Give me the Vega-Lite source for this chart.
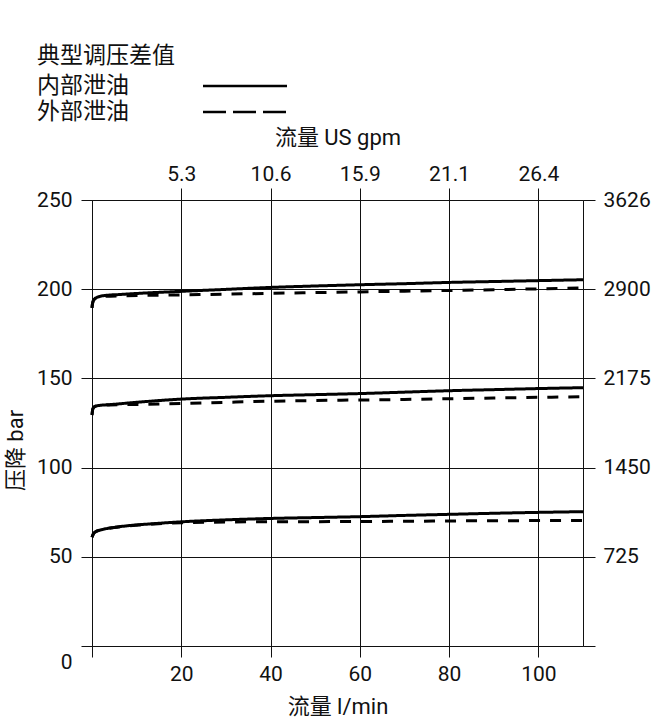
{
  "$schema": "https://vega.github.io/schema/vega-lite/v6.json",
  "width": 491,
  "height": 446,
  "autosize": {"type": "none"},
  "padding": {"left": 92, "top": 200, "right": 76, "bottom": 77},
  "background": "white",
  "config": {
    "view": {"stroke": null},
    "axis": {
      "labelFont": "Roboto, Noto Sans CJK SC",
      "titleFont": "Roboto, Noto Sans CJK SC",
      "labelFontSize": 21,
      "titleFontSize": 22,
      "titleFontWeight": "normal",
      "labelColor": "#111",
      "titleColor": "#111",
      "domainColor": "#111",
      "tickColor": "#111",
      "gridColor": "#111",
      "gridOpacity": 1,
      "gridWidth": 1,
      "domainWidth": 1,
      "tickWidth": 1,
      "labelOverlap": false,
      "labelFlush": false,
      "labelBound": false
    },
    "legend": {
      "labelFont": "Noto Sans CJK SC",
      "titleFont": "Noto Sans CJK SC"
    }
  },
  "data": {
    "values": [
      {"q": 0, "p": 189.5, "type": "内部泄油", "curve": "high"},
      {"q": 0.1, "p": 191.7, "type": "内部泄油", "curve": "high"},
      {"q": 0.4, "p": 194, "type": "内部泄油", "curve": "high"},
      {"q": 1.3, "p": 195.6, "type": "内部泄油", "curve": "high"},
      {"q": 3, "p": 196.5, "type": "内部泄油", "curve": "high"},
      {"q": 6, "p": 197, "type": "内部泄油", "curve": "high"},
      {"q": 10, "p": 197.6, "type": "内部泄油", "curve": "high"},
      {"q": 20, "p": 198.8, "type": "内部泄油", "curve": "high"},
      {"q": 30, "p": 199.9, "type": "内部泄油", "curve": "high"},
      {"q": 40, "p": 201, "type": "内部泄油", "curve": "high"},
      {"q": 50, "p": 201.8, "type": "内部泄油", "curve": "high"},
      {"q": 60, "p": 202.5, "type": "内部泄油", "curve": "high"},
      {"q": 70, "p": 203.1, "type": "内部泄油", "curve": "high"},
      {"q": 80, "p": 203.8, "type": "内部泄油", "curve": "high"},
      {"q": 90, "p": 204.3, "type": "内部泄油", "curve": "high"},
      {"q": 100, "p": 204.8, "type": "内部泄油", "curve": "high"},
      {"q": 110, "p": 205.3, "type": "内部泄油", "curve": "high"},

      {"q": 0, "p": 129.5, "type": "内部泄油", "curve": "mid"},
      {"q": 0.2, "p": 133, "type": "内部泄油", "curve": "mid"},
      {"q": 0.6, "p": 134.2, "type": "内部泄油", "curve": "mid"},
      {"q": 1.5, "p": 134.8, "type": "内部泄油", "curve": "mid"},
      {"q": 4, "p": 135.3, "type": "内部泄油", "curve": "mid"},
      {"q": 10, "p": 136.6, "type": "内部泄油", "curve": "mid"},
      {"q": 20, "p": 138.4, "type": "内部泄油", "curve": "mid"},
      {"q": 30, "p": 139.4, "type": "内部泄油", "curve": "mid"},
      {"q": 40, "p": 140.3, "type": "内部泄油", "curve": "mid"},
      {"q": 50, "p": 140.9, "type": "内部泄油", "curve": "mid"},
      {"q": 60, "p": 141.5, "type": "内部泄油", "curve": "mid"},
      {"q": 70, "p": 142.3, "type": "内部泄油", "curve": "mid"},
      {"q": 80, "p": 143.1, "type": "内部泄油", "curve": "mid"},
      {"q": 90, "p": 143.7, "type": "内部泄油", "curve": "mid"},
      {"q": 100, "p": 144.3, "type": "内部泄油", "curve": "mid"},
      {"q": 110, "p": 144.8, "type": "内部泄油", "curve": "mid"},

      {"q": 0, "p": 60.9, "type": "内部泄油", "curve": "low"},
      {"q": 0.3, "p": 62.8, "type": "内部泄油", "curve": "low"},
      {"q": 0.8, "p": 64, "type": "内部泄油", "curve": "low"},
      {"q": 2.5, "p": 65.4, "type": "内部泄油", "curve": "low"},
      {"q": 5, "p": 66.5, "type": "内部泄油", "curve": "low"},
      {"q": 8, "p": 67.4, "type": "内部泄油", "curve": "low"},
      {"q": 14, "p": 68.6, "type": "内部泄油", "curve": "low"},
      {"q": 20, "p": 69.6, "type": "内部泄油", "curve": "low"},
      {"q": 30, "p": 70.7, "type": "内部泄油", "curve": "low"},
      {"q": 40, "p": 71.5, "type": "内部泄油", "curve": "low"},
      {"q": 50, "p": 72, "type": "内部泄油", "curve": "low"},
      {"q": 60, "p": 72.5, "type": "内部泄油", "curve": "low"},
      {"q": 70, "p": 73.2, "type": "内部泄油", "curve": "low"},
      {"q": 80, "p": 73.8, "type": "内部泄油", "curve": "low"},
      {"q": 90, "p": 74.4, "type": "内部泄油", "curve": "low"},
      {"q": 100, "p": 74.9, "type": "内部泄油", "curve": "low"},
      {"q": 110, "p": 75.3, "type": "内部泄油", "curve": "low"},

      {"q": 0, "p": 189.5, "type": "外部泄油", "curve": "high"},
      {"q": 0.1, "p": 191.7, "type": "外部泄油", "curve": "high"},
      {"q": 0.4, "p": 194, "type": "外部泄油", "curve": "high"},
      {"q": 1.3, "p": 195.5, "type": "外部泄油", "curve": "high"},
      {"q": 3, "p": 196, "type": "外部泄油", "curve": "high"},
      {"q": 7, "p": 196.3, "type": "外部泄油", "curve": "high"},
      {"q": 20, "p": 196.8, "type": "外部泄油", "curve": "high"},
      {"q": 30, "p": 197.2, "type": "外部泄油", "curve": "high"},
      {"q": 40, "p": 197.7, "type": "外部泄油", "curve": "high"},
      {"q": 50, "p": 198.1, "type": "外部泄油", "curve": "high"},
      {"q": 60, "p": 198.5, "type": "外部泄油", "curve": "high"},
      {"q": 70, "p": 198.9, "type": "外部泄油", "curve": "high"},
      {"q": 80, "p": 199.3, "type": "外部泄油", "curve": "high"},
      {"q": 90, "p": 199.7, "type": "外部泄油", "curve": "high"},
      {"q": 100, "p": 200.2, "type": "外部泄油", "curve": "high"},
      {"q": 110, "p": 200.7, "type": "外部泄油", "curve": "high"},

      {"q": 0, "p": 129.5, "type": "外部泄油", "curve": "mid"},
      {"q": 0.2, "p": 133, "type": "外部泄油", "curve": "mid"},
      {"q": 0.6, "p": 134.2, "type": "外部泄油", "curve": "mid"},
      {"q": 1.5, "p": 134.7, "type": "外部泄油", "curve": "mid"},
      {"q": 4, "p": 135.1, "type": "外部泄油", "curve": "mid"},
      {"q": 10, "p": 135.4, "type": "外部泄油", "curve": "mid"},
      {"q": 20, "p": 136, "type": "外部泄油", "curve": "mid"},
      {"q": 30, "p": 136.6, "type": "外部泄油", "curve": "mid"},
      {"q": 40, "p": 137.2, "type": "外部泄油", "curve": "mid"},
      {"q": 50, "p": 137.6, "type": "外部泄油", "curve": "mid"},
      {"q": 60, "p": 137.9, "type": "外部泄油", "curve": "mid"},
      {"q": 70, "p": 138.2, "type": "外部泄油", "curve": "mid"},
      {"q": 80, "p": 138.6, "type": "外部泄油", "curve": "mid"},
      {"q": 90, "p": 139, "type": "外部泄油", "curve": "mid"},
      {"q": 100, "p": 139.4, "type": "外部泄油", "curve": "mid"},
      {"q": 110, "p": 139.7, "type": "外部泄油", "curve": "mid"},

      {"q": 0, "p": 60.9, "type": "外部泄油", "curve": "low"},
      {"q": 0.3, "p": 62.8, "type": "外部泄油", "curve": "low"},
      {"q": 0.8, "p": 64, "type": "外部泄油", "curve": "low"},
      {"q": 2.5, "p": 65.3, "type": "外部泄油", "curve": "low"},
      {"q": 5, "p": 66.4, "type": "外部泄油", "curve": "low"},
      {"q": 8, "p": 67.3, "type": "外部泄油", "curve": "low"},
      {"q": 14, "p": 68.4, "type": "外部泄油", "curve": "low"},
      {"q": 20, "p": 69.1, "type": "外部泄油", "curve": "low"},
      {"q": 30, "p": 69.5, "type": "外部泄油", "curve": "low"},
      {"q": 40, "p": 69.7, "type": "外部泄油", "curve": "low"},
      {"q": 50, "p": 69.7, "type": "外部泄油", "curve": "low"},
      {"q": 60, "p": 69.8, "type": "外部泄油", "curve": "low"},
      {"q": 70, "p": 69.9, "type": "外部泄油", "curve": "low"},
      {"q": 80, "p": 70.1, "type": "外部泄油", "curve": "low"},
      {"q": 90, "p": 70.2, "type": "外部泄油", "curve": "low"},
      {"q": 100, "p": 70.3, "type": "外部泄油", "curve": "low"},
      {"q": 110, "p": 70.3, "type": "外部泄油", "curve": "low"}
    ]
  },
  "encoding": {
    "detail": {"field": "curve", "type": "nominal"}
  },
  "layer": [
    {
      "transform": [{"filter": "datum.type === '内部泄油'"}],
      "mark": {"type": "line", "color": "#000", "strokeWidth": 3, "interpolate": "monotone", "strokeCap": "butt"},
      "encoding": {
        "x": {
          "field": "q",
          "type": "quantitative",
          "scale": {"domain": [0, 110], "nice": false, "zero": false},
          "axis": {
            "orient": "bottom",
            "values": [0, 20, 40, 60, 80, 100],
            "labelExpr": "datum.value === 0 ? '' : datum.label",
            "grid": true,
            "tickSize": 11,
            "labelPadding": 6,
            "title": "流量 l/min",
            "titlePadding": 12
          }
        },
        "y": {
          "field": "p",
          "type": "quantitative",
          "scale": {"domain": [0, 250], "nice": false, "zero": false},
          "axis": {
            "orient": "left",
            "values": [0, 50, 100, 150, 200, 250],
            "grid": true,
            "tickSize": 11,
            "labelPadding": 9,
            "labelOffset": {"condition": {"test": "datum.value === 0", "value": 16}, "value": 0},
            "title": "压降 bar",
            "titleX": -65,
            "titleY": 250
          }
        },
        "strokeDash": {
          "field": "type",
          "type": "nominal",
          "scale": {"domain": ["内部泄油", "外部泄油"], "range": [[1, 0], [23, 7]]},
          "legend": {
            "title": "典型调压差值",
            "orient": "none",
            "legendX": -55,
            "legendY": -155,
            "direction": "vertical",
            "padding": 0,
            "titleFontSize": 23,
            "titleFontWeight": "normal",
            "titleColor": "#111",
            "titlePadding": 6,
            "labelFontSize": 23,
            "labelColor": "#111",
            "symbolType": "M-4,0H4",
            "symbolSize": 441,
            "symbolStrokeWidth": 2.7,
            "symbolStrokeColor": "#000",
            "symbolFillColor": "transparent",
            "rowPadding": 2,
            "symbolOffset": 196,
            "labelOffset": -220,
            "labelLimit": 300
          }
        }
      }
    },
    {
      "transform": [{"filter": "datum.type === '外部泄油'"}],
      "mark": {"type": "line", "color": "#000", "strokeWidth": 3, "interpolate": "monotone", "strokeCap": "butt"},
      "encoding": {
        "x": {
          "field": "q",
          "type": "quantitative",
          "axis": {
            "orient": "top",
            "values": [20, 40, 60, 80, 100],
            "labelExpr": "datum.value === 20 ? '5.3' : datum.value === 40 ? '10.6' : datum.value === 60 ? '15.9' : datum.value === 80 ? '21.1' : '26.4'",
            "grid": false,
            "tickSize": 12,
            "labelPadding": 4,
            "title": "流量 US gpm",
            "titlePadding": 14
          }
        },
        "y": {
          "field": "p",
          "type": "quantitative",
          "axis": {
            "orient": "right",
            "values": [0, 50, 100, 150, 200, 250],
            "labelExpr": "datum.value === 50 ? '725' : datum.value === 100 ? '1450' : datum.value === 150 ? '2175' : datum.value === 200 ? '2900' : datum.value === 250 ? '3626' : ''",
            "grid": false,
            "tickSize": 12,
            "labelPadding": 8,
            "title": null
          }
        },
        "strokeDash": {"value": [11, 10]}
      }
    }
  ]
}
